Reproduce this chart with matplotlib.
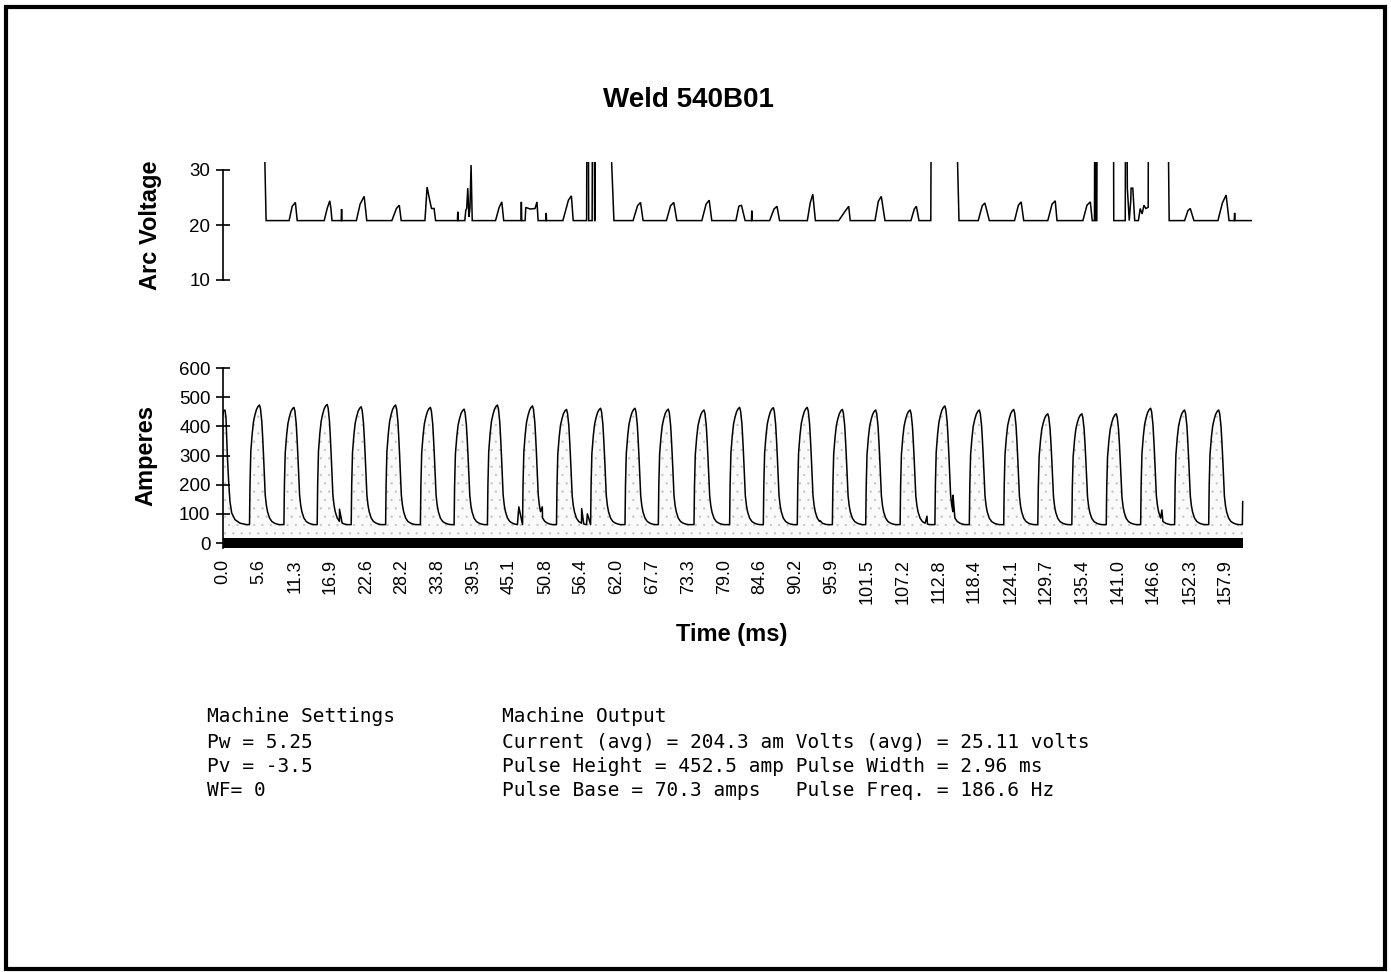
import matplotlib
matplotlib.use("Agg")
import matplotlib.pyplot as plt
from matplotlib.patches import Rectangle

plt.rcParams['font.family'] = ['Liberation Sans', 'DejaVu Sans']
plt.rcParams['hatch.linewidth'] = 0.4

# ---------------- data ----------------
title = "Weld 540B01"
volt_label = "Arc Voltage"
amp_label = "Amperes"
time_label = "Time (ms)"

xtick_labels = ["0.0", "5.6", "11.3", "16.9", "22.6", "28.2", "33.8", "39.5", "45.1",
                "50.8", "56.4", "62.0", "67.7", "73.3", "79.0", "84.6", "90.2", "95.9",
                "101.5", "107.2", "112.8", "118.4", "124.1", "129.7", "135.4", "141.0",
                "146.6", "152.3", "157.9"]
volt_ticks = [10, 20, 30]
amp_ticks = [0, 100, 200, 300, 400, 500, 600]

# Arc voltage trace (time ms, volts); values above the axis top are clipped
volt_ms = [6.44, 6.79,
           10.41, 10.9, 11.40, 11.69,
           15.94, 16.41, 16.82, 17.0, 17.17,
           18.62, 18.68, 18.74,
           21.01, 21.6, 22.24, 22.65,
           26.6, 27.32, 27.77, 28.07,
           31.81, 32.15, 32.56, 32.85, 33.25, 33.49,
           36.93, 36.99, 37.05,
           38.09, 38.25, 38.39, 38.56, 38.74, 38.9, 39.08, 39.26,
           42.93, 43.5, 43.92, 44.22,
           46.94, 47.0, 47.06,
           47.59, 47.7, 48.4, 49.16, 49.46, 49.64,
           50.85, 50.91, 50.97,
           53.54, 54.41, 54.88, 55.17,
           57.28, 57.32, 57.55, 57.61, 58.15, 58.2, 58.5, 58.54, 58.58, 58.62, 60.93, 61.58,
           64.6, 65.3, 65.77, 66.18,
           69.85, 70.5, 71.01, 71.49,
           75.43, 76.1, 76.59, 77.0,
           80.8, 81.26, 81.67, 82.25,
           83.24, 83.3, 83.36,
           86.11, 86.8, 87.27, 87.67,
           92.05, 92.5, 92.91, 93.32,
           96.99, 98.0, 98.57, 98.8,
           102.71, 103.23, 103.70, 104.28,
           108.37, 108.9, 109.23, 109.64,
           111.5, 111.56, 115.53, 115.94,
           118.97, 119.6, 120.02, 120.72,
           124.69, 125.3, 125.73, 126.14,
           129.93, 130.6, 131.1, 131.38,
           135.46, 136.1, 136.63, 136.93,
           137.28, 137.32, 137.45, 137.5, 137.65, 137.7, 140.28, 140.32,
           142.13, 142.17, 142.4, 142.46, 142.76, 143.0, 143.05, 143.32, 143.62, 144.2,
           144.49, 144.78, 145.08, 145.37, 145.74, 145.78, 148.87, 149.05,
           151.48, 152.0, 152.37, 152.95,
           156.73, 157.43, 158.02, 158.48,
           159.3, 159.36, 159.42,
           161.97]
volt_v = [40, 20.8,
          20.8, 23.4, 24.1, 20.8,
          20.8, 23.0, 24.4, 23.0, 20.8,
          20.8, 22.9, 20.8,
          20.8, 23.8, 25.2, 20.8,
          20.8, 23.0, 23.6, 20.8,
          20.8, 26.9, 24.5, 23.0, 23.0, 20.8,
          20.8, 22.4, 20.8,
          20.8, 22.7, 23.0, 26.7, 21.5, 23.0, 30.9, 20.8,
          20.8, 23.2, 24.2, 20.8,
          20.8, 24.2, 20.8,
          20.8, 23.2, 22.9, 23.0, 24.2, 20.8,
          20.8, 22.2, 20.8,
          20.8, 24.5, 25.3, 20.8,
          20.8, 40, 40, 20.8, 20.8, 40, 40, 20.8, 20.8, 40, 40, 20.8,
          20.8, 23.5, 24.1, 20.8,
          20.8, 23.5, 24.1, 20.8,
          20.8, 23.8, 24.5, 20.8,
          20.8, 23.4, 23.6, 20.8,
          20.8, 22.6, 20.8,
          20.8, 22.9, 23.4, 20.8,
          20.8, 24.0, 25.6, 20.8,
          20.8, 22.5, 23.4, 20.8,
          20.8, 24.3, 25.2, 20.8,
          20.8, 22.9, 23.4, 20.8,
          20.8, 40, 40, 20.8,
          20.8, 23.5, 24.0, 20.8,
          20.8, 23.6, 24.2, 20.8,
          20.8, 23.8, 24.4, 20.8,
          20.8, 23.6, 24.2, 20.8,
          20.8, 40, 40, 20.8, 20.8, 40, 40, 20.8,
          20.8, 40, 40, 26.7, 20.8, 24.5, 26.7, 26.7, 20.8, 20.8,
          23.0, 22.0, 23.6, 23.0, 23.2, 40, 40, 20.8,
          20.8, 22.6, 23.0, 20.8,
          20.8, 24.0, 25.45, 20.8,
          20.8, 22.2, 20.8,
          20.8]

# Welding current: partial pulse at the start of the record
first_pulse_ms = [0.0, 0.05, 0.31, 0.47, 0.68, 0.89, 1.10, 1.37, 1.89, 2.68, 3.73]
first_pulse_amps = [440, 452, 456, 430, 302, 211, 142, 103, 80, 68, 63]

# peak time (ms) and peak current (A) of each full pulse
pulse_peak_ms = [5.75, 11.17, 16.41, 21.77, 27.19, 32.67, 37.98, 43.23, 48.76, 54.11,
                 59.48, 64.90, 70.15, 75.77, 81.38, 86.69, 92.04, 97.57, 102.82, 108.24,
                 113.72, 119.14, 124.56, 129.93, 135.29, 140.71, 146.13, 151.48, 156.85]
pulse_peak_amps = [473, 465, 475, 467, 473, 465, 459, 473, 470, 458,
                   462, 462, 459, 456, 465, 464, 465, 458, 456, 456,
                   470, 456, 458, 443, 443, 443, 462, 456, 456]
pulse_base_amps = 63

# shape of one pulse, read on the pulse peaking at 5.75 ms (offset ms, amps)
pulse_shape_ms = [-1.575, -1.497, -1.370, -1.150, -0.945, -0.709, -0.473, -0.236, 0.0,
                  0.158, 0.362, 0.504, 0.630, 0.788, 0.898, 1.071, 1.260, 1.575,
                  1.938, 2.363, 2.725, 3.151]
pulse_shape_amps = [62, 200, 313, 375, 416, 440, 458, 468, 473,
                    460, 416, 360, 302, 220, 165, 130, 107, 85,
                    73, 67, 64, 62]

# small bumps on the base current between pulses
blip_ms = [18.35, 46.6, 50.3, 56.5, 57.4, 94.1, 110.9, 115.0, 147.9]
blip_amps = [116, 124, 124, 118, 100, 76, 92, 164, 113]

# end of the record
end_ms = [160.58, 160.63]
end_amps = [63, 142]

settings_lines = ["Machine Settings", "Pw = 5.25", "Pv = -3.5", "WF= 0"]
output_lines = ["Machine Output",
                "Current (avg) = 204.3 am Volts (avg) = 25.11 volts",
                "Pulse Height = 452.5 amp Pulse Width = 2.96 ms",
                "Pulse Base = 70.3 amps   Pulse Freq. = 186.6 Hz"]

# ---------------- build current trace ----------------
pts = list(zip(first_pulse_ms, first_pulse_amps))
shape_peak = max(pulse_shape_amps)
shape_base = pulse_shape_amps[0]
for pt, pa in zip(pulse_peak_ms, pulse_peak_amps):
    k = (pa - pulse_base_amps) / (shape_peak - shape_base)
    for off, sa in zip(pulse_shape_ms, pulse_shape_amps):
        pts.append((pt + off, pulse_base_amps + (sa - shape_base) * k))
pts += list(zip(blip_ms, blip_amps))
pts.sort(key=lambda p: p[0])
pts += list(zip(end_ms, end_amps))
cur_t = [p[0] for p in pts]
cur_a = [p[1] for p in pts]

# ---------------- figure ----------------
W, H = 1391, 972
fig = plt.figure(figsize=(W / 100, H / 100), dpi=100)
fig.patch.set_facecolor('white')

def fx(px):
    return px / W

def fy(py):
    return 1 - py / H

xmax = 162.57
left = fx(223)
width = fx(1255) - left

# voltage panel
axv = fig.add_axes([left, fy(280), width, fy(161.75) - fy(280)])
axv.plot(volt_ms, volt_v, color='black', lw=1.1, solid_joinstyle='miter')
axv.set_xlim(0, xmax)
axv.set_ylim(10, 31.5)
axv.set_yticks(volt_ticks)
axv.set_xticks([])
for s in ['top', 'right', 'bottom']:
    axv.spines[s].set_visible(False)
axv.spines['left'].set_bounds(10, 30)
axv.spines['left'].set_linewidth(1.2)
axv.tick_params(axis='y', direction='inout', length=10, width=1.2, labelsize=13.5, pad=4)
axv.patch.set_alpha(0)

# current panel
axa = fig.add_axes([left, fy(548.25), width, fy(368) - fy(548.25)])
axa.fill_between(cur_t, 0, cur_a, facecolor='#fafafa', hatch='..', edgecolor='#c4c4c4',
                 linewidth=0)
axa.plot(cur_t, cur_a, color='black', lw=1.1)
axa.fill_between([cur_t[0], cur_t[-1]], -17, 17, color='black', linewidth=0)
axa.set_xlim(0, xmax)
axa.set_ylim(-18, 600)
axa.set_yticks(amp_ticks)
axa.set_xticks([float(s) for s in xtick_labels])
axa.set_xticklabels(xtick_labels, rotation=90, fontsize=13)
for s in ['top', 'right', 'bottom']:
    axa.spines[s].set_visible(False)
axa.spines['left'].set_bounds(-18, 600)
axa.spines['left'].set_linewidth(1.2)
axa.tick_params(axis='y', direction='inout', length=10, width=1.2, labelsize=13.5, pad=4)
axa.tick_params(axis='x', length=0, pad=8)
axa.patch.set_alpha(0)

# titles and labels
fig.text(fx(688), fy(100), title, ha='center', va='center', fontsize=20, fontweight='bold')
fig.text(fx(151), fy(225), volt_label, rotation=90, ha='center', va='center',
         fontsize=17, fontweight='bold')
fig.text(fx(146), fy(455), amp_label, rotation=90, ha='center', va='center',
         fontsize=17, fontweight='bold')
fig.text(fx(732), fy(634), time_label, ha='center', va='center', fontsize=17,
         fontweight='bold')

mono = ['DejaVu Sans Mono']
ys = [717, 742, 766, 790]
for line, y in zip(settings_lines, ys):
    fig.text(fx(207), fy(y), line, ha='left', va='center', fontsize=14, family=mono)
for line, y in zip(output_lines, ys):
    fig.text(fx(502), fy(y), line, ha='left', va='center', fontsize=14, family=mono)

# page frame
fig.add_artist(Rectangle((fx(6), fy(969)), fx(1385) - fx(6), fy(7) - fy(969),
                         transform=fig.transFigure, fill=False, edgecolor='black',
                         linewidth=3))

fig.savefig("out.png", dpi=100, facecolor='white')
